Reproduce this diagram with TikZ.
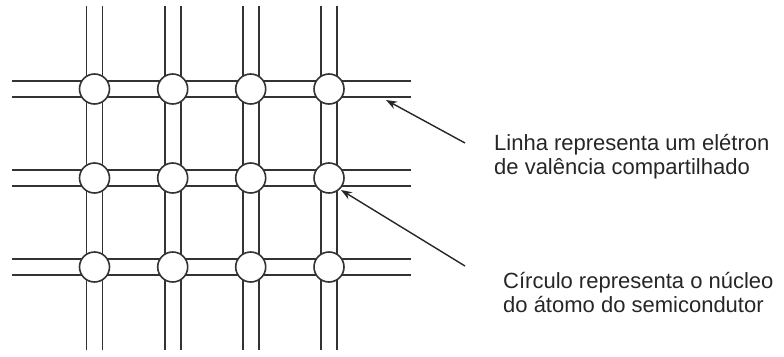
\documentclass[tikz,border=0pt]{standalone}
\usepackage{fontspec}
\setmainfont{Liberation Sans}
\usetikzlibrary{arrows.meta}
\begin{document}
\begin{tikzpicture}[x=1pt,y=-1pt,
  bond/.style={draw=black!80, line width=1.6pt},
  atom/.style={circle, draw=black!80, fill=white, line width=1.6pt, minimum size=30pt, inner sep=0pt},
  pointer/.style={draw=black!85, line width=1.4pt, -{Stealth[length=11pt,width=8pt]}},
  note/.style={font=\fontsize{22}{24}\selectfont, text=black!85, align=left, inner sep=0pt, anchor=base west}]
\useasboundingbox (0,0) rectangle (784,356);
% bonds
\foreach \y in {89,178,267}{
  \draw[bond] (12,{\y-8}) -- (411,{\y-8});
  \draw[bond] (12,{\y+8}) -- (411,{\y+8});
}
\foreach \x in {94.5,172.7,250.7,329}{
  \draw[bond] ({\x-8},6) -- ({\x-8},350);
  \draw[bond] ({\x+8},6) -- ({\x+8},350);
}
% atoms
\foreach \r/\y in {1/89,2/178,3/267}{
  \foreach \c/\x in {1/94.5,2/172.7,3/250.7,4/329}{
    \node[atom] (a\r\c) at (\x,\y) {};
  }
}
% labels
\node[note] (l1) at (494,174) {Linha representa um elétron\\de valência compartilhado};
\node[note] (l2) at (503,312) {Círculo representa o núcleo\\do átomo do semicondutor};
% pointers
\coordinate (t1) at (465,143);
\coordinate (h1) at (386,100);
\coordinate (t2) at (465,266);
\coordinate (h2) at (341,190);
\draw[pointer] (t1) -- (h1);
\draw[pointer] (t2) -- (h2);
\end{tikzpicture}
\end{document}
